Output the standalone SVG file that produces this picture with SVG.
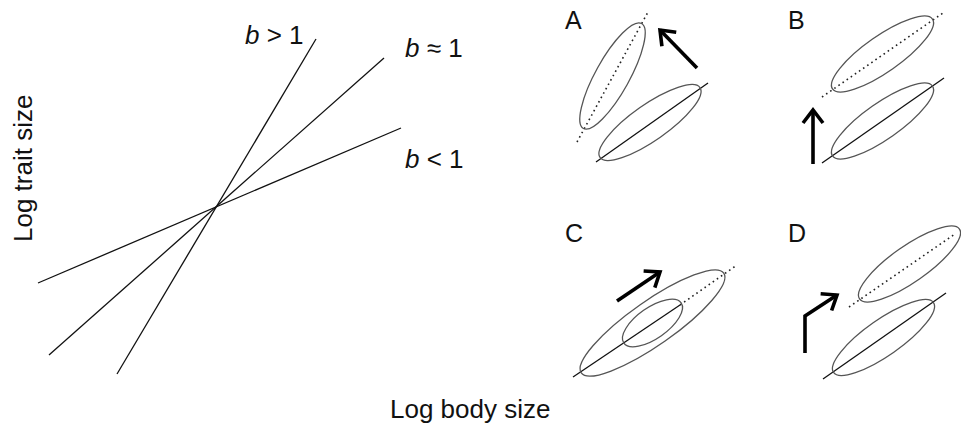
<svg xmlns="http://www.w3.org/2000/svg" width="961" height="427" viewBox="0 0 961 427">
<defs>
<style>
text{font-family:"Liberation Sans",Arial,sans-serif;fill:#111}
.ax{font-size:26px}
.lab{font-size:25px}
.ln{stroke:#111;stroke-width:1.3;fill:none}
.dot{stroke:#222;stroke-width:1.6;fill:none;stroke-dasharray:1.6 3.4}
.el{stroke:#555;stroke-width:1.3;fill:none}
.arr{stroke:#000;stroke-width:3.6;fill:none;marker-end:url(#ah)}
</style>
<marker id="ah" markerUnits="userSpaceOnUse" viewBox="-18 -14 22 28" markerWidth="22" markerHeight="28" refX="0" refY="0" orient="auto">
<path d="M-13,-10 L0,0 L-13,10" fill="none" stroke="#000" stroke-width="3.6" stroke-linejoin="miter"/>
</marker>
</defs>
<rect width="961" height="427" fill="#fff"/>
<g id="connectors">
<line class="ln" x1="117" y1="374" x2="316" y2="39"/>
<line class="ln" x1="49" y1="355" x2="384" y2="58"/>
<line class="ln" x1="38" y1="283" x2="401" y2="128"/>
</g>
<g id="axis-labels">
<text class="ax" x="390" y="418">Log body size</text>
<text class="ax" x="32" y="242" transform="rotate(-90 32 242)">Log trait size</text>
<text class="ax" x="245" y="44"><tspan font-style="italic">b</tspan> &gt; 1</text>
<text class="ax" x="405" y="57"><tspan font-style="italic">b</tspan> ≈ 1</text>
<text class="ax" x="405" y="168"><tspan font-style="italic">b</tspan> &lt; 1</text>
</g>
<g id="panelA">
<text class="lab" x="565" y="29">A</text>
<line class="dot" x1="577" y1="142" x2="648" y2="12"/>
<ellipse class="el" cx="612.5" cy="76" rx="60" ry="17" transform="rotate(-61 612.5 76)"/>
<line class="ln" x1="596" y1="162" x2="708" y2="83"/>
<ellipse class="el" cx="650" cy="122.5" rx="61" ry="18" transform="rotate(-35 650 122.5)"/>
<line class="arr" x1="697" y1="68" x2="660" y2="30"/>
</g>
<g id="panelB">
<text class="lab" x="788" y="29">B</text>
<line class="dot" x1="822" y1="97" x2="943" y2="13"/>
<ellipse class="el" cx="882.5" cy="54" rx="61" ry="18" transform="rotate(-35 882.5 54)"/>
<line class="ln" x1="822" y1="163" x2="944" y2="78"/>
<ellipse class="el" cx="882.5" cy="121" rx="61" ry="18" transform="rotate(-35 882.5 121)"/>
<line class="arr" x1="813" y1="164" x2="813" y2="110"/>
</g>
<g id="panelC">
<text class="lab" x="565" y="242">C</text>
<line class="dot" x1="680" y1="305" x2="737" y2="265"/>
<line class="ln" x1="573" y1="377" x2="680" y2="305"/>
<ellipse class="el" cx="652.5" cy="323" rx="87" ry="22" transform="rotate(-35 652.5 323)"/>
<ellipse class="el" cx="652.5" cy="323" rx="35" ry="15.5" transform="rotate(-35 652.5 323)"/>
<line class="arr" x1="617" y1="301" x2="660" y2="272"/>
</g>
<g id="panelD">
<text class="lab" x="788" y="242">D</text>
<line class="dot" x1="849" y1="307" x2="955" y2="234"/>
<ellipse class="el" cx="909.5" cy="264" rx="61" ry="18" transform="rotate(-35 909.5 264)"/>
<line class="ln" x1="823" y1="379" x2="946" y2="293"/>
<ellipse class="el" cx="883.5" cy="337.5" rx="61" ry="18" transform="rotate(-35 883.5 337.5)"/>
<polyline class="arr" points="805,353 805,316 837,295"/>
</g>
</svg>
